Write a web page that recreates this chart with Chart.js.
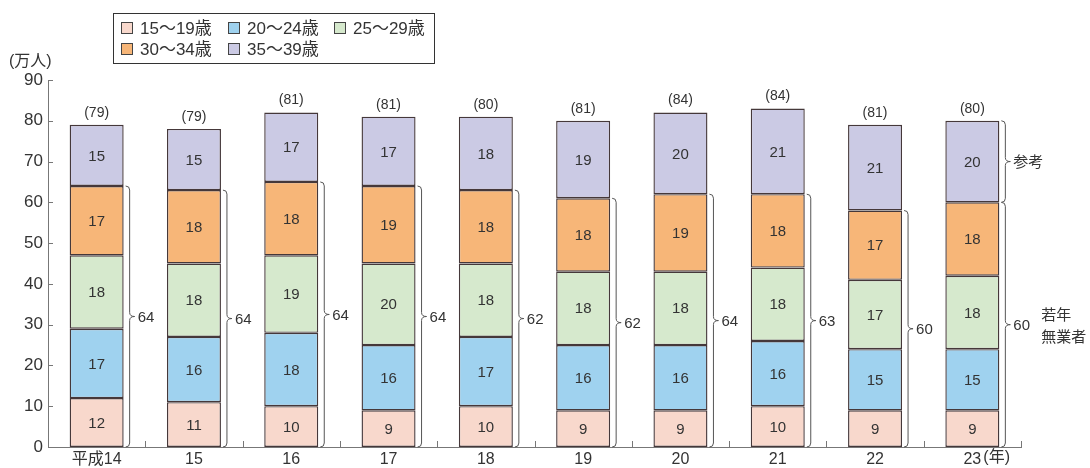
<!DOCTYPE html>
<html>
<head>
<meta charset="utf-8">
<script src="https://cdn.jsdelivr.net/npm/chart.js@4"></script>
<style>
  body { margin: 0; background: #fff; }
  canvas { display: block; }
</style>
</head>
<body>
<canvas id="chart" width="1090" height="468"></canvas>
<script>
// 데이터
const years = ['平成14', '15', '16', '17', '18', '19', '20', '21', '22', '23'];
const age15to19 = [12, 11, 10, 9, 10, 9, 9, 10, 9, 9];
const age20to24 = [17, 16, 18, 16, 17, 16, 16, 16, 15, 15];
const age25to29 = [18, 18, 19, 20, 18, 18, 18, 18, 17, 18];
const age30to34 = [17, 18, 18, 19, 18, 18, 19, 18, 17, 18];
const age35to39 = [15, 15, 17, 17, 18, 19, 20, 21, 21, 20];
const totalLabels = [79, 79, 81, 81, 80, 81, 84, 84, 81, 80];
const joblessLabels = [64, 64, 64, 64, 62, 62, 64, 63, 60, 60];
const yTicks = [0, 10, 20, 30, 40, 50, 60, 70, 80, 90];

const FONT = '"Liberation Sans", "Noto Sans CJK JP", sans-serif';
const TEXT = '#333';
const AXIS = '#777';

// 오른쪽 중괄호 그리기
function drawBrace(ctx, x, yTop, yBot) {
    const mid = (yTop + yBot) / 2;
    const vx = x + 4, px = x + 9, r = 4;
    ctx.beginPath();
    ctx.moveTo(x, yTop);
    ctx.quadraticCurveTo(vx, yTop, vx, yTop + r);
    ctx.lineTo(vx, mid - r);
    ctx.quadraticCurveTo(vx, mid, px, mid);
    ctx.quadraticCurveTo(vx, mid, vx, mid + r);
    ctx.lineTo(vx, yBot - r);
    ctx.quadraticCurveTo(vx, yBot, x, yBot);
    ctx.stroke();
}

const extrasPlugin = {
    id: 'extras',
    afterDatasetsDraw(chart) {
        const ctx = chart.ctx;
        const y = chart.scales.y;
        const n = chart.data.datasets.length;
        ctx.save();
        ctx.fillStyle = TEXT;
        ctx.textAlign = 'center';
        ctx.textBaseline = 'middle';

        // 구간 값
        ctx.font = '15px ' + FONT;
        chart.data.datasets.forEach((ds, i) => {
            chart.getDatasetMeta(i).data.forEach((bar, j) => {
                const p = bar.getProps(['x', 'y', 'base'], true);
                ctx.fillText(String(ds.data[j]), p.x, (p.y + p.base) / 2 + 1);
            });
        });

        // 합계 (괄호)
        ctx.font = '14px ' + FONT;
        chart.getDatasetMeta(n - 1).data.forEach((bar, j) => {
            const p = bar.getProps(['x', 'y'], true);
            ctx.fillText('(' + totalLabels[j] + ')', p.x, p.y - 12);
        });

        // 중괄호 + 라벨
        ctx.strokeStyle = '#555';
        ctx.lineWidth = 1;
        ctx.textAlign = 'left';
        ctx.font = '15px ' + FONT;
        chart.getDatasetMeta(3).data.forEach((bar, j) => {
            const p = bar.getProps(['x', 'y', 'width'], true);
            const right = p.x + p.width / 2 + 2;
            const bottom = y.getPixelForValue(0);
            drawBrace(ctx, right, p.y, bottom);
            ctx.fillText(String(joblessLabels[j]), right + 12, (p.y + bottom) / 2 + 1);
        });

        // 마지막 막대: 참고 / 若年無業者
        const last = chart.getDatasetMeta(n - 1).data[years.length - 1].getProps(['x', 'y', 'base', 'width'], true);
        const lastRight = last.x + last.width / 2 + 2;
        drawBrace(ctx, lastRight, last.y, last.base);
        ctx.fillText('参考', lastRight + 12, (last.y + last.base) / 2 + 1);
        const midJobless = (last.base + y.getPixelForValue(0)) / 2;
        ctx.fillText('若年', lastRight + 40, midJobless - 9);
        ctx.fillText('無業者', lastRight + 40, midJobless + 13);
        ctx.restore();
    },
    afterDraw(chart) {
        const ctx = chart.ctx;
        const area = chart.chartArea;
        const x = chart.scales.x;
        const y = chart.scales.y;
        ctx.save();
        ctx.strokeStyle = AXIS;
        ctx.lineWidth = 1;

        // y축 눈금 (안쪽)
        yTicks.forEach(v => {
            const py = Math.round(y.getPixelForValue(v)) + 0.5;
            ctx.beginPath();
            ctx.moveTo(area.left, py);
            ctx.lineTo(area.left + 5, py);
            ctx.stroke();
        });

        // x축 눈금 (카테고리 경계)
        const step = (area.right - area.left) / years.length;
        for (let i = 1; i <= years.length; i++) {
            const px = Math.round(area.left + step * i) + 0.5;
            ctx.beginPath();
            ctx.moveTo(px, area.bottom);
            ctx.lineTo(px, area.bottom - 6);
            ctx.stroke();
        }

        // (年)
        ctx.fillStyle = TEXT;
        ctx.font = '16px ' + FONT;
        ctx.textBaseline = 'middle';
        ctx.textAlign = 'left';
        ctx.fillText('(年)', x.getPixelForValue(years.length - 1) + 11, 458);

        // 단위
        ctx.fillText('(万人)', 9, 62);

        // 범례
        ctx.strokeStyle = '#333';
        ctx.strokeRect(113.5, 13.5, 321, 50);
        ctx.font = '17px ' + FONT;
        const slots = [[121, 28], [228, 28], [334, 28], [121, 49], [228, 49]];
        chart.data.datasets.forEach((ds, i) => {
            const [sx, sy] = slots[i];
            ctx.fillStyle = ds.backgroundColor;
            ctx.fillRect(sx + 0.5, sy - 5.5, 11, 11);
            ctx.strokeStyle = '#444';
            ctx.strokeRect(sx + 0.5, sy - 5.5, 11, 11);
            ctx.fillStyle = TEXT;
            ctx.fillText(ds.label, sx + 19, sy + 1);
        });
        ctx.restore();
    }
};

function makeSet(label, data, color) {
    return {
        label: label,
        data: data,
        backgroundColor: color,
        borderColor: '#45383a',
        borderWidth: 1.4,
        borderSkipped: false,
        categoryPercentage: 1,
        barPercentage: 0.555
    };
}

const ctx = document.getElementById('chart').getContext('2d');
window.youthChart = new Chart(ctx, {
    type: 'bar',
    data: {
        labels: years,
        datasets: [
            makeSet('15～19歳', age15to19, '#f8d8cc'),
            makeSet('20～24歳', age20to24, '#9fd2ef'),
            makeSet('25～29歳', age25to29, '#d6e9cd'),
            makeSet('30～34歳', age30to34, '#f7b678'),
            makeSet('35～39歳', age35to39, '#cbcae4')
        ]
    },
    options: {
        responsive: false,
        animation: false,
        devicePixelRatio: 1,
        layout: { padding: { left: 0, right: 69, top: 80, bottom: 0 } },
        plugins: {
            legend: { display: false },
            tooltip: { enabled: false }
        },
        scales: {
            x: {
                stacked: true,
                grid: { display: false, drawTicks: false, tickLength: 0 },
                border: { display: true, color: AXIS },
                ticks: { color: TEXT, font: { family: FONT, size: 16 }, padding: 3, maxRotation: 0 },
                afterFit: s => { s.height = 21; }
            },
            y: {
                stacked: true,
                min: 0,
                max: 90,
                grid: { display: false, drawTicks: false, tickLength: 0 },
                border: { display: true, color: AXIS },
                ticks: { stepSize: 10, color: TEXT, font: { family: FONT, size: 17 }, padding: 5 },
                afterFit: s => { s.width = 48; }
            }
        }
    },
    plugins: [extrasPlugin]
});
</script>
</body>
</html>
